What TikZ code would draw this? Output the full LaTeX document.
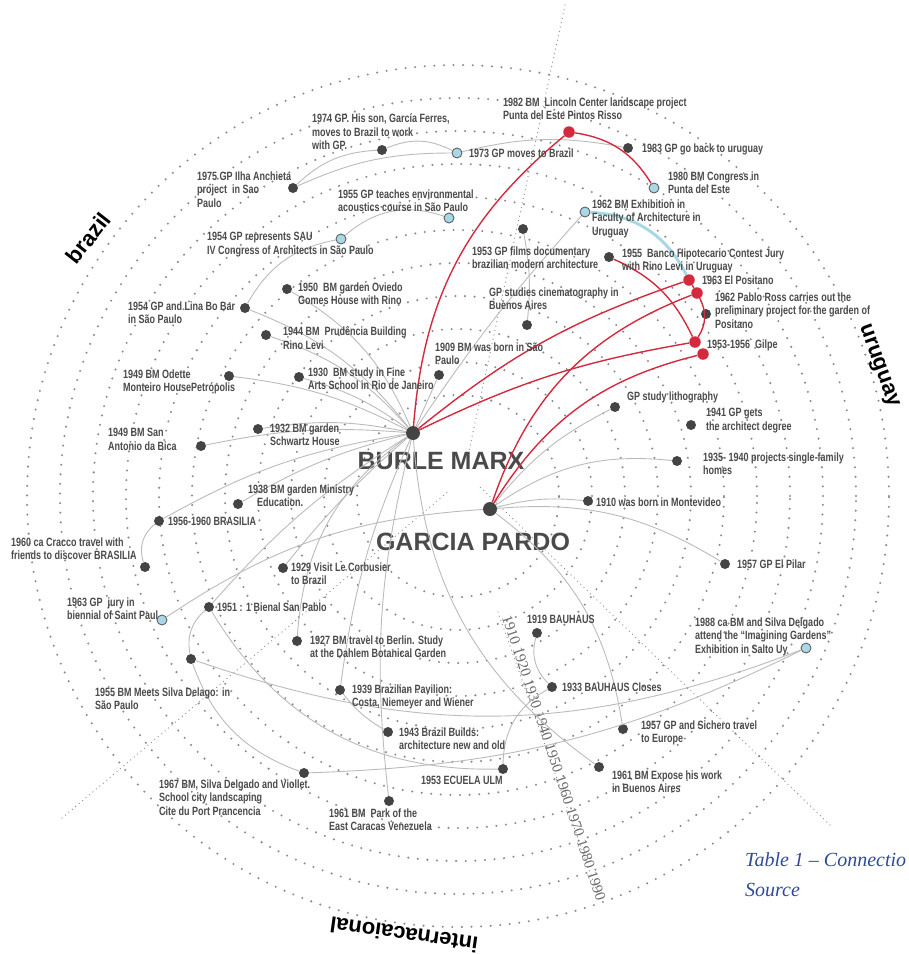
\documentclass[tikz,border=0pt]{standalone}
\usepackage{fontspec}
\setmainfont{Liberation Sans}
\newfontfamily\labfont{Liberation Sans}[FakeStretch=0.75]
\newfontfamily\serfont{Liberation Serif}
\definecolor{labc}{HTML}{4A4A4A}
\definecolor{dotc}{HTML}{444444}
\definecolor{ringc}{HTML}{8C8C8C}
\definecolor{linec}{HTML}{BBBBBB}
\definecolor{redc}{HTML}{D42A3E}
\definecolor{bluec}{HTML}{A8D8E6}
\definecolor{capc}{HTML}{2F4A9A}
\definecolor{yearc}{HTML}{6A6A6A}
\begin{document}
\begin{tikzpicture}[x=1pt,y=-1pt,
 ring/.style={draw=ringc, line width=2.3pt, line cap=round, dash pattern=on 0pt off 9.6pt},
 divider/.style={draw=ringc, line width=1.3pt, line cap=round, dash pattern=on 0pt off 4.5pt},
 dd/.style={circle, fill=dotc, inner sep=0pt, minimum size=10pt},
 bd/.style={circle, fill=bluec, draw=dotc!85, line width=0.9pt, inner sep=0pt, minimum size=10pt},
 rd/.style={circle, fill=redc, inner sep=0pt, minimum size=11.5pt},
 hub/.style={circle, fill=dotc, inner sep=0pt, minimum size=14pt},
 lab/.style={font={\labfont\bfseries\fontsize{12}{13.7}\selectfont}, text=labc, align=left, inner sep=0pt, anchor=north west, yshift=5.7pt, execute at begin node={\rule{0pt}{10pt}}},
 big/.style={font={\bfseries\fontsize{25}{28}\selectfont}, text=labc, inner sep=0pt},
 sector/.style={font={\bfseries\fontsize{22}{24}\selectfont}, text=black, inner sep=0pt},
 gl/.style={draw=linec, line width=0.9pt},
 rl/.style={draw=redc, line width=1.4pt},
 bl/.style={draw=bluec, line width=3pt},
]
\useasboundingbox (0,0) rectangle (909,954);
% rings
\coordinate (ctr) at (458,496);
\foreach \r in {101,134,...,431} \draw[ring] (ctr) circle[radius=\r pt];
% dividers
\coordinate (dt1) at (565,5);   \coordinate (dt2) at (467,460);
\coordinate (dl1) at (62,818);  \coordinate (dl2) at (450,490);
\coordinate (dr1) at (830,825); \coordinate (dr2) at (480,487);
\draw[divider] (dt1) -- (dt2);
\draw[divider] (dl1) -- (dl2);
\draw[divider] (dr1) -- (dr2);
% year axis
\coordinate (ya) at (498,612); \coordinate (yb) at (598,895);
\draw[divider] (ya) -- (yb);
\node[font={\serfont\fontsize{15}{16}\selectfont}, text=yearc, rotate=-71.6, inner sep=0pt] (years) at (554,758) {1910 1920 1930 1940 1950 1960 1970 1980 1990};

% hubs
\node[hub] (bm) at (413,433) {};
\node[hub] (gp) at (490,509) {};
\node[big] (bmt) at (441,461) {BURLE MARX};
\node[big] (gpt) at (473,542) {GARCIA PARDO};

% event dots
\node[dd] (n1974) at (382,150) {};
\node[bd] (n1973) at (457,153) {};
\node[dd] (n1975) at (293,188) {};
\node[rd] (n1982) at (569,132) {};
\node[dd] (n1983) at (628,148) {};
\node[bd] (n1980) at (654,188) {};
\node[bd] (n1955t) at (449,218) {};
\node[bd] (n1954s) at (341,239) {};
\node[dd] (n1953f) at (523,229) {};
\node[bd] (n1962e) at (585,212) {};
\node[dd] (n1955b) at (609,257) {};
\node[rd] (n1963p) at (689,280) {};
\node[rd] (n1962r) at (697,293) {};
\node[dd] (n1962d) at (706,314) {};
\node[rd] (n1953g) at (695,342) {};
\node[rd] (n1953r) at (703,354) {};
\node[dd] (nlith) at (615,407) {};
\node[dd] (n1941) at (691,425) {};
\node[dd] (n1935) at (677,461) {};
\node[dd] (ncine) at (527,325) {};
\node[dd] (n1909) at (439,375) {};
\node[dd] (n1950) at (287,289) {};
\node[dd] (n1954l) at (245,308) {};
\node[dd] (n1944) at (266,335) {};
\node[dd] (n1949o) at (229,376) {};
\node[dd] (n1930) at (299,377) {};
\node[dd] (n1932) at (258,429) {};
\node[dd] (n1949s) at (201,446) {};
\node[dd] (n1938) at (238,504) {};
\node[dd] (n1956) at (159,521) {};
\node[dd] (n1960) at (145,567) {};
\node[dd] (n1929) at (283,568) {};
\node[bd] (n1963j) at (162,620) {};
\node[dd] (n1951) at (209,607) {};
\node[dd] (n1927) at (297,641) {};
\node[dd] (n1955m) at (191,659) {};
\node[dd] (n1910) at (588,501) {};
\node[dd] (n1919) at (537,633) {};
\node[dd] (n1933) at (552,687) {};
\node[dd] (n1939) at (340,690) {};
\node[dd] (n1957p) at (725,564) {};
\node[bd] (n1988) at (806,648) {};
\node[dd] (n1943) at (388,732) {};
\node[dd] (n1967) at (304,773) {};
\node[dd] (n1961p) at (389,801) {};
\node[dd] (nulm) at (503,769) {};
\node[dd] (n1957s) at (623,729) {};
\node[dd] (n1961e) at (599,767) {};

% gray connectors
\draw[gl] (n1975) to[bend left=20] (n1974);
\draw[gl] (n1975) to[bend left=12] (n1973);
\draw[gl] (n1974) to[bend left=25] (n1973);
\draw[gl] (n1973) to[bend left=12] (n1983);
\draw[gl] (n1954s) to[bend left=30] (n1955t);
\draw[gl] (n1954l) to[bend left=25] (n1954s);
\draw[gl] (n1954l) to[bend left=15] (bm);
\draw[gl] (n1953f) to[bend left=8] (ncine);
\draw[gl] (bm) to[bend left=4] (n1962e);
\draw[gl] (bm) -- (n1909);
\draw[gl] (bm) to[bend right=18] (n1950);
\draw[gl] (bm) to[bend right=15] (n1944);
\draw[gl] (bm) to[bend right=10] (n1949o);
\draw[gl] (bm) to[bend right=10] (n1930);
\draw[gl] (bm) to[bend right=10] (n1932);
\draw[gl] (bm) to[bend right=8] (n1949s);
\draw[gl] (bm) to[bend right=8] (n1938);
\draw[gl] (bm) to[bend right=10] (n1956);
\draw[gl] (n1956) to[bend right=35] (n1960);
\draw[gl] (bm) to[bend right=5] (n1929);
\draw[gl] (bm) to[bend right=8] (n1951);
\draw[gl] (bm) to[bend right=25] (n1927);
\draw[gl] (bm) to[bend right=8] (n1939);
\draw[gl] (n1939) to[bend right=10] (n1943);
\draw[gl] (bm) to[bend right=10] (n1961p);
\draw[gl] (bm) to[bend right=25] (n1961e);
\draw[gl] (n1951) to[bend right=30] (n1955m);
\draw[gl] (n1955m) to[bend right=25] (n1967);
\draw[gl] (n1951) to[bend right=30] (nulm);
\draw[gl] (n1955m) to[bend right=20] (n1988);
\draw[gl] (n1967) to[bend right=12] (n1988);
\draw[gl] (n1919) to[bend right=30] (n1933);
\draw[gl] (n1933) to[bend right=30] (nulm);
\draw[gl] (gp) to[bend left=10] (n1910);
\draw[gl] (gp) to[bend left=18] (n1957p);
\draw[gl] (gp) to[bend left=20] (n1935);
\draw[gl] (gp) to[bend left=12] (nlith);
\draw[gl] (gp) to[bend right=15] (n1963j);
\draw[gl] (gp) to[bend left=22] (n1957s);
% light blue connector
\draw[bl] (n1962e) to[bend left=30] (n1963p);
% red connectors
\draw[rl] (bm) to[bend left=23] (n1982);
\draw[rl] (n1982) to[bend left=25] (n1980);
\draw[rl] (bm) to[bend left=10] (n1963p);
\draw[rl] (bm) to[bend left=8] (n1953g);
\draw[rl] (gp) to[bend left=25] (n1962r);
\draw[rl] (gp) to[bend left=22] (n1953r);
\draw[rl] (n1955b) to[bend left=20] (n1953g);
\draw[rl] (n1963p) -- (n1962r);
\draw[rl] (n1962r) to[bend left=30] (n1953g);

% labels
\node[lab] (l1974) at (312,119) {1974 GP. His son, García Ferres,\\moves to Brazil to work\\with GP.};
\node[lab] (l1973) at (469,153) {1973 GP moves to Brazil};
\node[lab] (l1975) at (197,177) {1975 GP Ilha Anchieta\\project\ \ in Sao\\Paulo};
\node[lab] (l1982) at (503,103) {1982 BM\ \ Lincoln Center landscape project\\Punta del Este Pintos Risso};
\node[lab] (l1983) at (642,148) {1983 GP go back to uruguay};
\node[lab] (l1980) at (668,177) {1980 BM Congress in\\Punta del Este};
\node[lab] (l1955t) at (338,195) {1955 GP teaches environmental\\acoustics course in São Paulo};
\node[lab] (l1954s) at (207,238) {1954 GP represents SAU\\IV Congress of Architects in São Paulo};
\node[lab] (l1953f) at (472,252) {1953 GP films documentary\\brazilian modern architecture};
\node[lab] (l1962e) at (592,205) {1962 BM Exhibition in\\Faculty of Architecture in\\Uruguay};
\node[lab] (l1955b) at (622,254) {1955\ \ Banco Hipotecario Contest Jury\\with Rino Levi in Uruguay};
\node[lab] (l1963p) at (702,280) {1963 El Positano};
\node[lab] (l1962d) at (715,298) {1962 Pablo Ross carries out the\\preliminary project for the garden of\\Positano};
\node[lab] (l1953g) at (707,344) {1953-1956\ \ Gilpe};
\node[lab] (llith) at (627,396) {GP study lithography};
\node[lab] (l1941) at (706,414) {1941 GP gets\\the architect degree};
\node[lab] (l1935) at (703,458) {1935- 1940 projects single-family\\homes};
\node[lab] (lcine) at (489,293) {GP studies cinematography in\\Buenos Aires};
\node[lab] (l1909) at (435,348) {1909 BM was born in São\\Paulo};
\node[lab] (l1950) at (298,288) {1950\ \ BM garden Oviedo\\Gomes House with Rino};
\node[lab] (l1954l) at (128,307) {1954 GP and Lina Bo Bar\\in São Paulo};
\node[lab] (l1944) at (283,332) {1944 BM\ \ Prudência Building\\Rino Levi};
\node[lab] (l1949o) at (123,375) {1949 BM Odette\\Monteiro HousePetrópolis};
\node[lab] (l1930) at (308,373) {1930\ \ BM study in Fine\\Arts School in Rio de Janeiro};
\node[lab] (l1932) at (270,429) {1932 BM garden\\Schwartz House};
\node[lab] (l1949s) at (108,434) {1949 BM San\\Antonio da Bica};
\node[lab] (l1938) at (248,490) {1938 BM garden Ministry\\\hspace*{9pt}Education.};
\node[lab] (l1956) at (168,521) {1956-1960 BRASILIA};
\node[lab] (l1960) at (11,543) {1960 ca Cracco travel with\\friends to discover BRASILIA};
\node[lab] (l1929) at (291,568) {1929 Visit Le Corbusier\\to Brazil};
\node[lab] (l1963j) at (67,603) {1963 GP\ \ jury in\\biennial of Saint Paul};
\node[lab] (l1951) at (217,607) {1951 : 1 Bienal San Pablo};
\node[lab] (l1927) at (310,641) {1927 BM travel to Berlin. Study\\at the Dahlem Botanical Garden};
\node[lab] (l1955m) at (95,693) {1955 BM Meets Silva Delago: in\\São Paulo};
\node[lab] (l1910) at (596,502) {1910 was born in Montevideo};
\node[lab] (l1919) at (527,619) {1919 BAUHAUS};
\node[lab] (l1933) at (562,687) {1933 BAUHAUS Closes};
\node[lab] (l1939) at (352,690) {1939 Brazilian Pavilion:\\Costa, Niemeyer and Wiener};
\node[lab] (l1957p) at (737,564) {1957 GP El Pilar};
\node[lab] (l1988) at (695,623) {1988 ca BM and Silva Delgado\\attend the “Imagining Gardens”\\Exhibition in Salto Uy};
\node[lab] (l1943) at (399,733) {1943 Brazil Builds:\\architecture new and old};
\node[lab] (l1967) at (159,785) {1967 BM, Silva Delgado and Viollet.\\School city landscaping\\Cite du Port Prancencia};
\node[lab] (l1961p) at (329,814) {1961 BM\ \ Park of the\\East Caracas Venezuela};
\node[lab] (lulm) at (421,780) {1953 ECUELA ULM};
\node[lab] (l1957s) at (641,726) {1957 GP and Sichero travel\\to Europe};
\node[lab] (l1961e) at (612,776) {1961 BM Expose his work\\in Buenos Aires};

% sector labels
\node[sector, rotate=52] (sbr) at (88,238) {brazil};
\node[sector, rotate=-70] (suy) at (878,366) {uruguay};
\node[sector, rotate=172] (sin) at (404,935) {internacaional};

% caption
\node[font={\serfont\itshape\fontsize{20}{30}\selectfont}, text=capc, align=left, anchor=north west, inner sep=0pt] (cap) at (745,852) {Table 1 – Connectio\\Source};
\end{tikzpicture}
\end{document}
